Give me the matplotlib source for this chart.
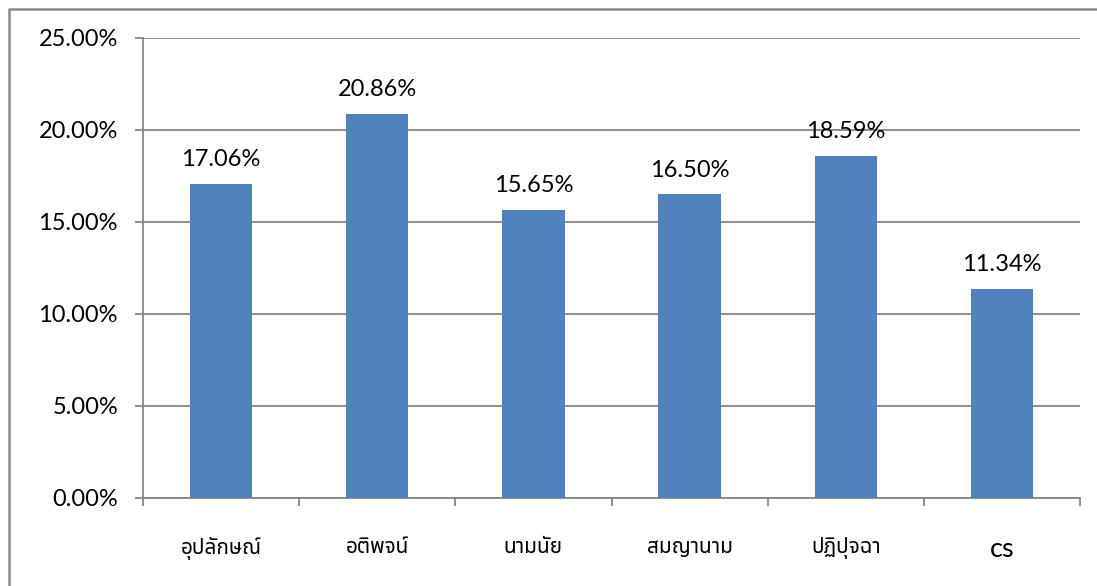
import matplotlib
matplotlib.use("Agg")
import matplotlib.pyplot as plt
from matplotlib import font_manager
from matplotlib.ft2font import FT2Font
from matplotlib.lines import Line2D
import numpy as np

categories = ["อุปลักษณ์", "อติพจน์", "นามนัย", "สมญานาม", "ปฏิปุจฉา", "cs"]
values = [17.06, 20.86, 15.65, 16.50, 18.59, 11.34]
y_ticks = [0, 5, 10, 15, 20, 25]


def find_thai_font():
    """Return the family name of an installed font that covers Thai."""
    preferred = ["Noto Sans Thai", "Noto Sans Thai UI", "Tlwg Typo", "Loma",
                 "Garuda", "Norasi", "Kinnari", "Sawasdee"]
    found = {}
    for f in font_manager.fontManager.ttflist:
        try:
            cmap = FT2Font(f.fname).get_charmap()
        except Exception:
            continue
        if 0x0E2D in cmap and 0x0E38 in cmap:
            found.setdefault(f.name, f.fname)
    for p in preferred:
        if p in found:
            return p
    return next(iter(found), None)


thai = find_thai_font()
base = ["Lato", "DejaVu Sans"]
thai_families = ([thai] if thai else []) + base
plt.rcParams["font.family"] = base

W, H = 1097, 586
fig = plt.figure(figsize=(W / 100, H / 100), dpi=100)
ax = fig.add_axes([143 / W, 1 - 498 / H, (1080 - 143) / W, (498 - 38) / H])

grid_col = "#868686"
bar_col = "#4F81BD"
fs = 17

x = np.arange(len(categories))
ax.bar(x, values, width=0.4, color=bar_col, zorder=3)
for xi, v in zip(x, values):
    ax.annotate(f"{v:.2f}%", (xi, v), xytext=(0, 10), textcoords="offset points",
                ha="center", va="bottom", fontsize=fs, color="black")

ax.set_xlim(-0.5, len(categories) - 0.5)
ax.set_ylim(0, 25)
ax.set_yticks(y_ticks)
ax.set_yticklabels([f"{t:.2f}%" for t in y_ticks], fontsize=fs)
ax.yaxis.grid(True, color=grid_col, linewidth=1.3, zorder=0)

ax.set_xticks(x)
ax.set_xticklabels(categories, fontsize=fs)
for lbl, name in zip(ax.get_xticklabels(), categories):
    if name.isascii():
        lbl.set_fontsize(19.5)
    else:
        lbl.set_family(thai_families)
        lbl.set_fontsize(15)
ax.set_xticks(np.arange(len(categories) + 1) - 0.5, minor=True)
ax.tick_params(axis="x", which="major", length=0, pad=28)
ax.tick_params(axis="x", which="minor", length=6, width=1.3, color=grid_col)
ax.tick_params(axis="y", length=6, width=1.3, color=grid_col, pad=12)

for s in ["top", "right"]:
    ax.spines[s].set_visible(False)
for s in ["left", "bottom"]:
    ax.spines[s].set_color(grid_col)
    ax.spines[s].set_linewidth(1.3)

# outer chart frame
fig.add_artist(Line2D([9 / W, 9 / W, 1.0], [0.0, 1 - 9 / H, 1 - 9 / H],
                      transform=fig.transFigure, color="#8a8a8a", linewidth=1.8))

fig.savefig("out.png", dpi=100)
